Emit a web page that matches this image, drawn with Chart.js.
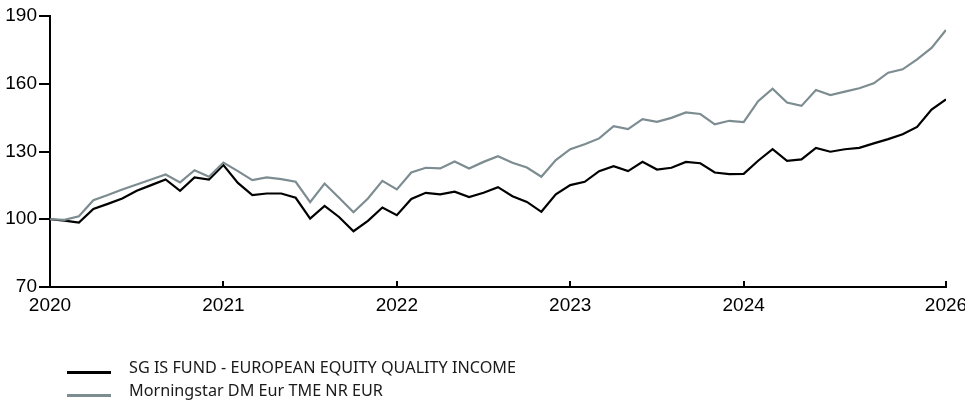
<!DOCTYPE html>
<html>
<head>
<meta charset="utf-8">
<script src="https://cdn.jsdelivr.net/npm/chart.js@4/dist/chart.umd.min.js"></script>
<style>
  html, body { margin: 0; padding: 0; background: #fff; }
  #wrap { position: relative; width: 965px; height: 403px; }
  #c { position: absolute; left: 0; top: 0; }
  .lg { position: absolute; font-family: "Noto Sans", sans-serif; font-size: 16.2px; line-height: 16px; color: #1a1a1a; white-space: nowrap; }
  .sw { position: absolute; left: 67px; width: 44px; height: 3px; }
</style>
</head>
<body>
<div id="wrap">
  <canvas id="c" width="965" height="403"></canvas>
  <div class="sw" id="sw0" style="top:371px;"></div>
  <div class="lg" id="lg0" style="left:129px; top:359px;"></div>
  <div class="sw" id="sw1" style="top:394px;"></div>
  <div class="lg" id="lg1" style="left:129px; top:382px;"></div>
</div>
<script>
// Monthly observations (index 0 = start of 2020)
const seriesNames = ["SG IS FUND - EUROPEAN EQUITY QUALITY INCOME", "Morningstar DM Eur TME NR EUR"];
const fundValues = [
  100.0, 99.4, 98.5, 104.6, 106.8, 109.2, 112.6, 115.1, 117.6, 112.6,
  118.5, 117.6, 124.0, 116.1, 110.7, 111.4, 111.4, 109.5, 100.3, 105.9,
  101.0, 94.7, 99.3, 105.2, 101.8, 109.0, 111.7, 111.0, 112.2, 109.8,
  111.7, 114.2, 110.2, 107.7, 103.3, 111.0, 115.1, 116.6, 121.3, 123.5,
  121.3, 125.4, 122.0, 122.8, 125.4, 124.8, 120.7, 120.0, 120.1, 125.9,
  131.0, 125.9, 126.5, 131.6, 129.9, 131.0, 131.6, 133.6, 135.5, 137.6,
  140.9, 148.6, 153.1
];
const benchmarkValues = [
  100.0, 99.7, 101.3, 108.4, 110.7, 113.2, 115.4, 117.6, 119.8, 116.3,
  121.7, 118.8, 125.1, 121.3, 117.3, 118.5, 117.8, 116.6, 107.6, 115.8,
  109.5, 103.1, 109.2, 117.0, 113.2, 120.7, 122.8, 122.5, 125.6, 122.5,
  125.4, 127.9, 125.0, 122.9, 118.8, 126.2, 131.0, 133.2, 135.8, 141.2,
  139.9, 144.3, 143.1, 144.9, 147.3, 146.6, 142.0, 143.6, 143.0, 152.3,
  157.8, 151.7, 150.2, 157.2, 155.0, 156.5, 158.0, 160.2, 164.9, 166.4,
  170.8, 175.9, 183.8
];
const xTickPositions = [0, 12, 24, 36, 48, 62];
const xTickLabels = ["2020", "2021", "2022", "2023", "2024", "2026"];
const yTickValues = [70, 100, 130, 160, 190];

const colors = ["#000000", "#7c8c91"];

const toPoints = arr => arr.map((v, i) => ({ x: i, y: v }));

document.getElementById('lg0').textContent = seriesNames[0];
document.getElementById('lg1').textContent = seriesNames[1];
document.getElementById('sw0').style.background = colors[0];
document.getElementById('sw1').style.background = colors[1];

new Chart(document.getElementById('c'), {
  type: 'line',
  data: {
    datasets: [
      { label: seriesNames[1], data: toPoints(benchmarkValues), borderColor: colors[1], borderWidth: 2.2, pointRadius: 0, tension: 0, fill: false },
      { label: seriesNames[0], data: toPoints(fundValues), borderColor: colors[0], borderWidth: 2.2, pointRadius: 0, tension: 0, fill: false }
    ]
  },
  options: {
    responsive: false,
    animation: false,
    layout: { padding: { top: 16, right: 19, bottom: 0, left: 0 } },
    plugins: { legend: { display: false }, tooltip: { enabled: false } },
    scales: {
      x: {
        type: 'linear',
        min: 0,
        max: xTickPositions[xTickPositions.length - 1],
        afterBuildTicks: s => { s.ticks = xTickPositions.map(v => ({ value: v })); },
        afterFit: s => { s.height = 116; s.paddingLeft = 0; s.paddingRight = 0; },
        ticks: {
          autoSkip: false,
          maxRotation: 0,
          padding: 13,
          color: '#000',
          font: { family: '"Liberation Sans", Arial, sans-serif', size: 19 },
          callback: v => xTickLabels[xTickPositions.indexOf(v)]
        },
        grid: { drawOnChartArea: false, drawTicks: true, tickLength: -6, color: '#000', lineWidth: 2 },
        border: { display: true, color: '#000', width: 2 }
      },
      y: {
        min: 70,
        max: 190,
        afterBuildTicks: s => { s.ticks = yTickValues.map(v => ({ value: v })); },
        afterFit: s => { s.width = 50; s.paddingTop = 0; s.paddingBottom = 0; },
        ticks: {
          padding: 2,
          color: '#000',
          font: { family: '"Liberation Sans", Arial, sans-serif', size: 19 }
        },
        grid: { drawOnChartArea: false, drawTicks: true, tickLength: 11, color: '#000', lineWidth: 2 },
        border: { display: true, color: '#000', width: 2 }
      }
    }
  }
});
</script>
</body>
</html>
